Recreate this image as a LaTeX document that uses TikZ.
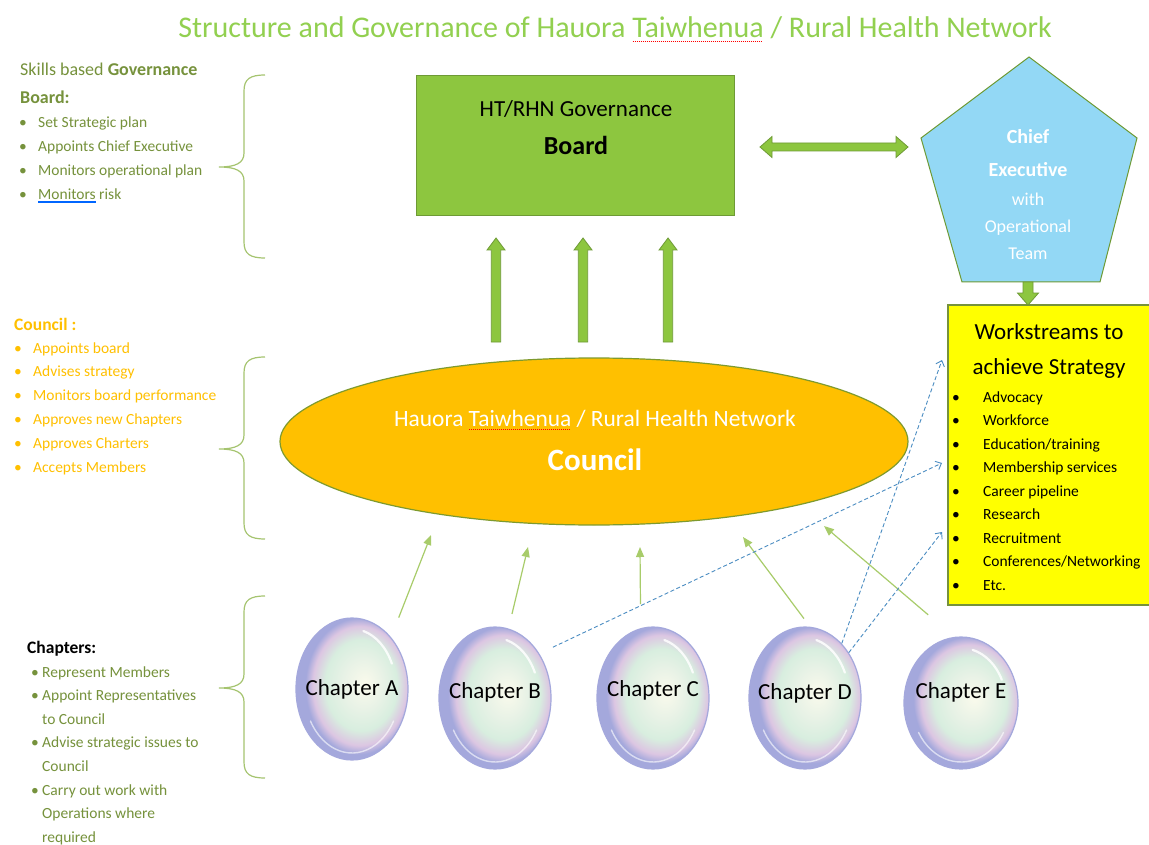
\documentclass[tikz,border=0pt]{standalone}
\usepackage{fontspec}
\setmainfont{Carlito}
\usetikzlibrary{arrows.meta,shapes.geometric,calc}

\definecolor{titlegreen}{HTML}{92D050}
\definecolor{boardgreen}{HTML}{8DC63F}
\definecolor{edgegreen}{HTML}{6E9A35}
\definecolor{olivetext}{HTML}{76923C}
\definecolor{councilfill}{HTML}{FFC000}
\definecolor{councilline}{HTML}{7E9A2E}
\definecolor{ceofill}{HTML}{93D8F5}
\definecolor{wsfill}{HTML}{FFFF00}
\definecolor{bracecol}{HTML}{A5C46F}
\definecolor{thincol}{HTML}{A8CC6A}
\definecolor{dashcol}{HTML}{4B8DC2}
\definecolor{bubrim}{HTML}{A4A8DC}
\definecolor{bubpink}{HTML}{DCC6E2}
\definecolor{bubmid}{HTML}{E8F2E6}
\definecolor{bubgreen}{HTML}{D8EEDF}
\definecolor{bubcenter}{HTML}{FAFAEC}

\pgfdeclareradialshading{bubbleshade}{\pgfpoint{6bp}{2bp}}{color(0bp)=(bubcenter); color(9bp)=(bubmid); color(16bp)=(bubgreen); color(21bp)=(bubpink); color(24bp)=(bubrim); color(25bp)=(bubrim); color(50bp)=(bubrim)}

\newsavebox\wordbox
\newcommand\spellred[1]{\sbox\wordbox{#1}\rlap{\raisebox{-3.5pt}{\color{red}\leaders\hbox to 2pt{\hss\rule{1.1pt}{0.9pt}\hss}\hskip\wd\wordbox}}\usebox\wordbox}
\newcommand\spellblue[1]{\sbox\wordbox{#1}\rlap{\color{blue!60!cyan}\raisebox{-2.3pt}{\rule{\wd\wordbox}{0.55pt}}}\rlap{\color{blue!60!cyan}\raisebox{-3.8pt}{\rule{\wd\wordbox}{0.55pt}}}\usebox\wordbox}
\newcommand\fs[1]{\fontsize{#1}{#1}\selectfont}
\newcommand\bul[1]{\makebox[#1][l]{\textbullet}}
\newcommand\upby[2]{\makebox[0pt]{\raisebox{#1}[\height][\depth]{#2}}}
\newcommand\upblock[3]{\filldraw[blockarrow] (#1-4.7,#2) -- (#1-4.7,#3+12) -- (#1-9,#3+12) -- (#1,#3) -- (#1+9,#3+12) -- (#1+4.7,#3+12) -- (#1+4.7,#2) -- cycle;}
\newcommand\mybrace[3]{\draw[bracepath] (265,#1) .. controls (250,#1) and (244,#1+4) .. (244,#1+16) -- (244,#2-14) .. controls (244,#2-4) and (236,#2) .. (219,#2) .. controls (236,#2) and (244,#2+4) .. (244,#2+14) -- (244,#3-16) .. controls (244,#3-4) and (250,#3) .. (265,#3);}

\begin{document}
\begin{tikzpicture}[x=1pt,y=-1pt,
  blockarrow/.style={fill=boardgreen, draw=edgegreen, line width=0.8pt, line join=miter},
  thinarrow/.style={draw=thincol, line width=1.2pt, -{Triangle[length=10pt,width=8pt]}},
  dasharrow/.style={draw=dashcol, line width=0.9pt, dash pattern=on 4pt off 2.5pt, -{Straight Barb[length=5pt,width=9pt]}},
  bracepath/.style={draw=bracecol, line width=1.2pt},
  bubble/.style={ellipse, draw=bubrim, line width=1.2pt, shade, shading=bubbleshade, minimum width=112pt, minimum height=142pt, inner sep=0pt, font=\fs{23}},
  shine/.style={draw=white, line width=2.2pt, opacity=0.85, line cap=round},
  lefttext/.style={anchor=base west, inner sep=0pt, font=\fs{15.5}},
  wsitem/.style={anchor=base west, inner sep=0pt, font=\fs{15.5}}]

\useasboundingbox (0,0) rectangle (1149,845);
\fill[white] (0,0) rectangle (1149,845);

% title
\node[anchor=base, inner sep=0pt, text=titlegreen, font=\fs{30}] (title) at (615,38)
  {Structure and Governance of Hauora \spellred{Taiwhenua} / Rural Health Network};

% braces
\mybrace{75}{167}{258}
\mybrace{357}{449}{539}
\mybrace{596}{688}{778}

% left block 1
\node[anchor=base west, inner sep=0pt, text=olivetext, font=\fs{18}] (g0) at (20,76) {Skills based \textbf{Governance}};
\node[anchor=base west, inner sep=0pt, text=olivetext, font=\fs{18}] (g1) at (20,104) {\textbf{Board:}};
\foreach \t [count=\i from 0] in {Set Strategic plan, Appoints Chief Executive, Monitors operational plan, {\spellblue{Monitors} risk}}
  \node[lefttext, text=olivetext] (g2-\i) at (19,128+23.7*\i) {\bul{19pt}\t};

% left block 2
\node[anchor=base west, inner sep=0pt, text=councilfill, font=\fs{17.5}\bfseries] (c0) at (14,330) {Council :};
\foreach \t [count=\i from 0] in {Appoints board, Advises strategy, Monitors board performance, Approves new Chapters, Approves Charters, Accepts Members}
  \node[lefttext, text=councilfill] (c1-\i) at (14,353+23.8*\i) {\bul{19pt}\t};

% left block 3
\node[anchor=base west, inner sep=0pt, font=\fs{17.5}\bfseries] (h0) at (27,653) {Chapters:};
\foreach \t [count=\i from 0] in {{\bul{11pt}Represent Members}, {\bul{11pt}Appoint Representatives}, {\hspace*{11pt}to Council}, {\bul{11pt}Advise strategic issues to}, {\hspace*{11pt}Council}, {\bul{11pt}Carry out work with}, {\hspace*{11pt}Operations where}, {\hspace*{11pt}required}}
  \node[lefttext, text=olivetext] (h1-\i) at (31,677+23.6*\i) {\t};

% board
\node[draw=edgegreen, line width=1pt, fill=boardgreen, minimum width=318pt, minimum height=140pt, inner sep=0pt] (board) at (575,145.5) {};
\node[anchor=base, inner sep=0pt, font=\fs{23}] (boardt1) at (576,116.5) {HT/RHN Governance};
\node[anchor=base, inner sep=0pt, font=\fs{26}\bfseries] (boardt2) at (576,154.5) {Board};

% double arrow board <-> chief executive
\filldraw[blockarrow] (760,147) -- (772,136.5) -- (772,143) -- (896,143) -- (896,136.5) -- (908,147) -- (896,157.5) -- (896,151) -- (772,151) -- (772,157.5) -- cycle;

% chief executive pentagon
\filldraw[fill=ceofill, draw=edgegreen, line width=1pt, line join=miter] (1029,57) -- (1137,138) -- (1100,282) -- (962,282) -- (921,138) -- cycle;
\node[anchor=base, inner sep=0pt, text=white, font=\fs{20}\bfseries] (ceo) at (1028,143.5) {Chief};
\node[anchor=base, inner sep=0pt, text=white, font=\fs{20}\bfseries] (ceo2) at (1028,176.5) {Executive};
\node[anchor=base, inner sep=0pt, text=white, font=\fs{18}] (ceo3) at (1028,206) {with};
\node[anchor=base, inner sep=0pt, text=white, font=\fs{18}] (ceo4) at (1028,233) {Operational};
\node[anchor=base, inner sep=0pt, text=white, font=\fs{18}] (ceo5) at (1028,259) {Team};

% workstreams box
\filldraw[fill=wsfill, draw=olivetext, line width=1.2pt] (948,305) rectangle (1170,605);
\draw[fill=boardgreen, draw=edgegreen, line width=0.8pt, line join=miter] (1023,282) -- (1023,293) -- (1017.5,293) -- (1028,305) -- (1038.5,293) -- (1033,293) -- (1033,282) -- cycle;
\node[anchor=base, inner sep=0pt, font=\fs{23}] (ws) at (1049,339.5) {Workstreams to};
\node[anchor=base, inner sep=0pt, font=\fs{23}] (ws2) at (1049,374.5) {achieve Strategy};
\foreach \t [count=\i from 0] in {Advocacy, Workforce, Education/training, Membership services, Career pipeline, Research, Recruitment, Conferences/Networking, Etc.}
  \node[wsitem] (wsi-\i) at (952,402+23.5*\i) {\bul{31pt}\t};

% up arrows council -> board
\upblock{496}{342}{238}
\upblock{583}{342}{238}
\upblock{668}{342}{238}

% council
\node[ellipse, draw=councilline, line width=1.2pt, fill=councilfill, minimum width=628pt, minimum height=167pt, inner sep=0pt] (council) at (594,441.5) {};
\node[anchor=base, inner sep=0pt, text=white, font=\fs{23.4}] (ct1) at (595,426.5) {Hauora \spellred{Taiwhenua} / Rural Health Network};
\node[anchor=base, inner sep=0pt, text=white, font=\fs{31}\bfseries] (ct2) at (595,470) {Council};

% chapters
\node[bubble] (chA) at (352,689) {\upby{0pt}{Chapter A}};
\node[bubble] (chB) at (495,698) {\upby{6pt}{Chapter B}};
\node[bubble] (chC) at (653,698) {\upby{8pt}{Chapter C}};
\node[bubble] (chD) at (805,698) {\upby{5pt}{Chapter D}};
\node[bubble, minimum width=114pt, minimum height=132pt] (chE) at (961,703) {\upby{11pt}{Chapter E}};
\foreach \n in {chA,chB,chC,chD} {
  \draw[shine] (\n) ++(-25:44 and 60) arc[start angle=-25, end angle=-75, x radius=44, y radius=60];
  \draw[shine, line width=1.4pt, opacity=0.6] (\n) ++(150:48 and 64) arc[start angle=150, end angle=30, x radius=48, y radius=64];
}
\draw[shine] (chE) ++(-25:45 and 55) arc[start angle=-25, end angle=-75, x radius=45, y radius=55];
\draw[shine, line width=1.4pt, opacity=0.6] (chE) ++(150:49 and 59) arc[start angle=150, end angle=30, x radius=49, y radius=59];

% thin arrows chapters -> council
\coordinate (tA) at (431,535);
\coordinate (tB) at (528,547);
\coordinate (tC) at (640,547);
\coordinate (tD) at (743,537);
\coordinate (tE) at (824,526);
\foreach \n/\a/\s/\t in {chA/53.9/21/tA, chB/79.8/15/tB, chC/100.7/24/tC, chD/86.8/10/tD, chE/96.4/34/tE}
  \draw[thinarrow, shorten <=\s pt] (\n.\a) -- (\t);

% dashed arrows chapters -> workstreams
\coordinate (wA) at (942,360);
\coordinate (wB) at (942,463);
\coordinate (wC) at (942,532);
\draw[dasharrow, shorten <=15pt] (chB.45) -- (wB);
\draw[dasharrow] (chD.56.8) -- (wA);
\draw[dasharrow] (chD.46.9) -- (wC);

\end{tikzpicture}
\end{document}
